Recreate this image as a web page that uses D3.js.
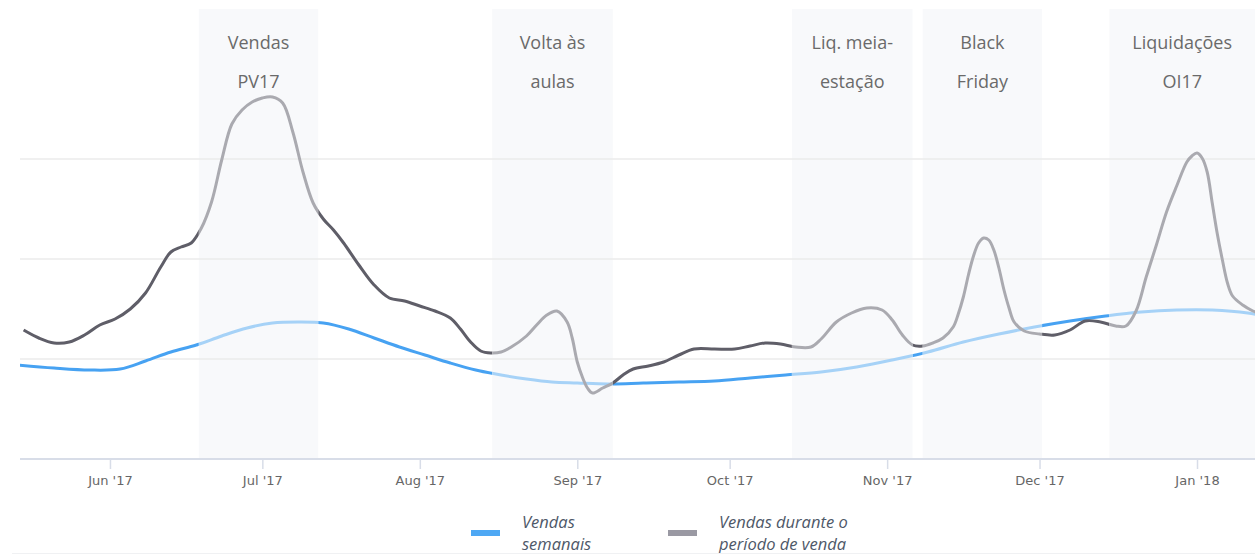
<!DOCTYPE html>
<html>
<head>
<meta charset="utf-8">
<script src="https://cdn.jsdelivr.net/npm/d3@7"></script>
<style>
  html, body { margin: 0; padding: 0; background: #ffffff; }
  svg { display: block; }
</style>
</head>
<body>
<svg id="chart" width="1255" height="554"></svg>
<script>
// Weekly sales trend (smoothed)
const semanaisDatas = [
  "2017-05-14","2017-05-21","2017-05-28","2017-06-03","2017-06-08","2017-06-13","2017-06-18",
  "2017-06-23","2017-06-28","2017-07-03","2017-07-08","2017-07-13","2017-07-18","2017-07-23",
  "2017-07-28","2017-08-02","2017-08-07","2017-08-12","2017-08-17","2017-08-22","2017-08-27",
  "2017-09-01","2017-09-07","2017-09-14","2017-09-21","2017-09-28","2017-10-05","2017-10-12",
  "2017-10-19","2017-10-26","2017-11-02","2017-11-09","2017-11-16","2017-11-23","2017-11-30",
  "2017-12-07","2017-12-14","2017-12-21","2017-12-28","2018-01-04","2018-01-11","2018-01-14"
];
const semanaisValores = [
  94, 91, 89, 90, 98, 107, 114,
  123, 131, 136, 137, 136, 130, 121,
  112, 104, 96, 89, 84, 80, 77,
  76, 75, 76, 77, 78, 81, 84,
  87, 92, 99, 107, 117, 125, 132,
  138, 143, 147, 149, 149, 146, 143
];

// Sales during the sale periods
const periodoDatas = [
  "2017-05-15","2017-05-18","2017-05-21","2017-05-24","2017-05-27","2017-05-30","2017-06-02",
  "2017-06-05","2017-06-08","2017-06-11","2017-06-13","2017-06-15","2017-06-17","2017-06-19",
  "2017-06-21","2017-06-23","2017-06-25","2017-06-27","2017-06-29","2017-07-01","2017-07-03",
  "2017-07-05","2017-07-07","2017-07-09","2017-07-11","2017-07-13","2017-07-15","2017-07-17",
  "2017-07-20","2017-07-23","2017-07-26","2017-07-29","2017-08-01","2017-08-04","2017-08-07",
  "2017-08-09","2017-08-11","2017-08-13","2017-08-15","2017-08-17","2017-08-19","2017-08-22",
  "2017-08-24","2017-08-26","2017-08-28","2017-08-30","2017-08-31","2017-09-01","2017-09-02",
  "2017-09-03","2017-09-04","2017-09-06","2017-09-08","2017-09-10","2017-09-12","2017-09-15",
  "2017-09-18","2017-09-21","2017-09-24","2017-09-28","2017-10-02","2017-10-05","2017-10-08",
  "2017-10-11","2017-10-14","2017-10-17","2017-10-19","2017-10-22","2017-10-25","2017-10-28",
  "2017-10-31","2017-11-02","2017-11-04","2017-11-06","2017-11-08","2017-11-10","2017-11-12",
  "2017-11-14","2017-11-15","2017-11-16","2017-11-17","2017-11-18","2017-11-19","2017-11-20",
  "2017-11-21","2017-11-22","2017-11-23","2017-11-24","2017-11-25","2017-11-26","2017-11-28",
  "2017-12-01","2017-12-04","2017-12-07","2017-12-10","2017-12-13","2017-12-16","2017-12-18",
  "2017-12-20","2017-12-22","2017-12-24","2017-12-26","2017-12-28","2017-12-30","2017-12-31",
  "2018-01-01","2018-01-02","2018-01-03","2018-01-04","2018-01-05","2018-01-06","2018-01-07",
  "2018-01-08","2018-01-10","2018-01-12","2018-01-13"
];
const periodoValores = [
  129, 121, 116, 117, 124, 134, 140,
  150, 166, 192, 207, 212, 216, 231,
  257, 299, 335, 349, 357, 361, 362,
  356, 327, 287, 256, 240, 229, 216,
  194, 174, 161, 158, 153, 148, 141,
  130, 117, 108, 106, 107, 112, 123,
  134, 144, 148, 137, 121, 97, 82,
  71, 66, 71, 76, 84, 90, 93,
  97, 104, 110, 110, 110, 113, 116,
  115, 112, 112, 120, 137, 146, 151,
  149, 139, 124, 114, 113, 116, 121,
  132, 145, 162, 184, 203, 216, 221,
  219, 209, 191, 169, 151, 137, 128,
  125, 124, 129, 138, 137, 133, 133,
  148, 182, 214, 247, 273, 297, 303,
  306, 301, 287, 256, 225, 199, 176,
  163, 154, 148, 146
];

// Sale periods highlighted as bands
const faixasInicio = ["2017-06-18 12", "2017-08-15 06", "2017-10-13 06", "2017-11-08 00", "2017-12-14 18"];
const faixasFim    = ["2017-07-12 00", "2017-09-08 00", "2017-11-06 00", "2017-12-01 12", "2018-01-14 00"];
const faixasRotulos = [
  ["Vendas", "PV17"],
  ["Volta às", "aulas"],
  ["Liq. meia-", "estação"],
  ["Black", "Friday"],
  ["Liquidações", "OI17"]
];

const ticksMeses = ["2017-06-01","2017-07-01","2017-08-01","2017-09-01","2017-10-01","2017-11-01","2017-12-01","2018-01-01"];
const gradeValores = [100, 200, 300];

const legendaNomes = [["Vendas", "semanais"], ["Vendas durante o", "período de venda"]];

// ---------------------------------------------------------------
const parseDia = d3.timeParse("%Y-%m-%d");
const parseHora = d3.timeParse("%Y-%m-%d %H");
const fmtTick = d3.timeFormat("%b '%y");

const W = 1255, H = 554;
const plotL = 20, plotR = 1255, plotT = 9, plotB = 459;

const x = d3.scaleTime()
  .domain([new Date(2017, 4, 14, 7), new Date(2018, 0, 12, 10)])
  .range([plotL, plotR]);
const y = d3.scaleLinear().domain([0, 450]).range([plotB, plotT]);

const svg = d3.select("#chart");
const defs = svg.append("defs");

const bands = faixasInicio.map((s, i) => {
  const x0 = Math.max(plotL, x(parseHora(s)));
  const x1 = Math.min(plotR, x(parseHora(faixasFim[i])));
  return { x0, x1, label: faixasRotulos[i] };
});

// Clip regions: inside the bands and between them
defs.append("clipPath").attr("id", "clip-in")
  .selectAll("rect").data(bands).join("rect")
  .attr("x", d => d.x0).attr("width", d => d.x1 - d.x0)
  .attr("y", 0).attr("height", plotB + 5);

const gaps = [];
let cursor = plotL;
bands.forEach(b => { if (b.x0 > cursor) gaps.push([cursor, b.x0]); cursor = b.x1; });
if (cursor < plotR) gaps.push([cursor, plotR]);
defs.append("clipPath").attr("id", "clip-out")
  .selectAll("rect").data(gaps).join("rect")
  .attr("x", d => d[0]).attr("width", d => d[1] - d[0])
  .attr("y", 0).attr("height", plotB + 5);

// Plot bands
svg.append("g").selectAll("rect").data(bands).join("rect")
  .attr("x", d => d.x0).attr("width", d => d.x1 - d.x0)
  .attr("y", plotT).attr("height", plotB - plotT)
  .attr("fill", "#f8f9fb");

// Grid lines
svg.append("g").selectAll("line").data(gradeValores).join("line")
  .attr("x1", plotL).attr("x2", plotR)
  .attr("y1", d => y(d)).attr("y2", d => y(d))
  .attr("stroke", "#ebebeb").attr("stroke-width", 1.5);

// Band labels
const lbl = svg.append("g").selectAll("text").data(bands).join("text")
  .attr("text-anchor", "middle")
  .attr("font-family", "'Open Sans', sans-serif")
  .attr("font-size", 18)
  .attr("fill", "#6a6a6a");
lbl.append("tspan").attr("x", d => (d.x0 + d.x1) / 2).attr("y", 49).text(d => d.label[0]);
lbl.append("tspan").attr("x", d => (d.x0 + d.x1) / 2).attr("y", 88).text(d => d.label[1]);

// X axis
const axis = d3.axisBottom(x)
  .tickValues(ticksMeses.map(parseDia))
  .tickFormat(fmtTick)
  .tickSize(10)
  .tickPadding(7);
const gx = svg.append("g").attr("transform", `translate(0,${plotB})`).call(axis);
gx.select(".domain").attr("stroke", "#d8dde8").attr("stroke-width", 2)
  .attr("d", `M${plotL},0H${plotR}`);
gx.selectAll(".tick line").attr("stroke", "#d8dde8").attr("stroke-width", 1.5);
gx.selectAll(".tick text")
  .attr("fill", "#666666")
  .attr("font-family", "'DejaVu Sans', sans-serif")
  .attr("font-size", 13);

// Series
const semanais = semanaisDatas.map((d, i) => ({ date: parseDia(d), v: semanaisValores[i] }));
const periodo = periodoDatas.map((d, i) => ({ date: parseDia(d), v: periodoValores[i] }));

const line = d3.line().x(d => x(d.date)).y(d => y(d.v)).curve(d3.curveCatmullRom.alpha(0.5));

function drawZoned(data, outColor, inColor) {
  const g = svg.append("g");
  g.append("path").datum(data).attr("d", line)
    .attr("fill", "none").attr("stroke", outColor).attr("stroke-width", 3)
    .attr("stroke-linejoin", "round").attr("stroke-linecap", "butt")
    .attr("clip-path", "url(#clip-out)");
  g.append("path").datum(data).attr("d", line)
    .attr("fill", "none").attr("stroke", inColor).attr("stroke-width", 3)
    .attr("stroke-linejoin", "round").attr("stroke-linecap", "butt")
    .attr("clip-path", "url(#clip-in)");
}
drawZoned(semanais, "#47a2f2", "#a6d2f7");
drawZoned(periodo, "#5f5e68", "#aaaab0");

// Legend
const legend = svg.append("g");
const legItems = [
  { sx: 471, tx: 522, color: "#4ea8f4", lines: legendaNomes[0] },
  { sx: 668, tx: 719, color: "#9a99a3", lines: legendaNomes[1] }
];
legItems.forEach(it => {
  legend.append("rect").attr("x", it.sx).attr("y", 530).attr("width", 29).attr("height", 6)
    .attr("fill", it.color);
  const t = legend.append("text")
    .attr("font-family", "'Open Sans', sans-serif")
    .attr("font-style", "italic")
    .attr("font-size", 16.5)
    .attr("fill", "#4e5868");
  t.append("tspan").attr("x", it.tx).attr("y", 528).text(it.lines[0]);
  t.append("tspan").attr("x", it.tx).attr("y", 550).text(it.lines[1]);
});

// Bottom edge rule
svg.append("line").attr("x1", 12).attr("x2", W).attr("y1", 553.5).attr("y2", 553.5)
  .attr("stroke", "#f0f1f3").attr("stroke-width", 1);
</script>
</body>
</html>
